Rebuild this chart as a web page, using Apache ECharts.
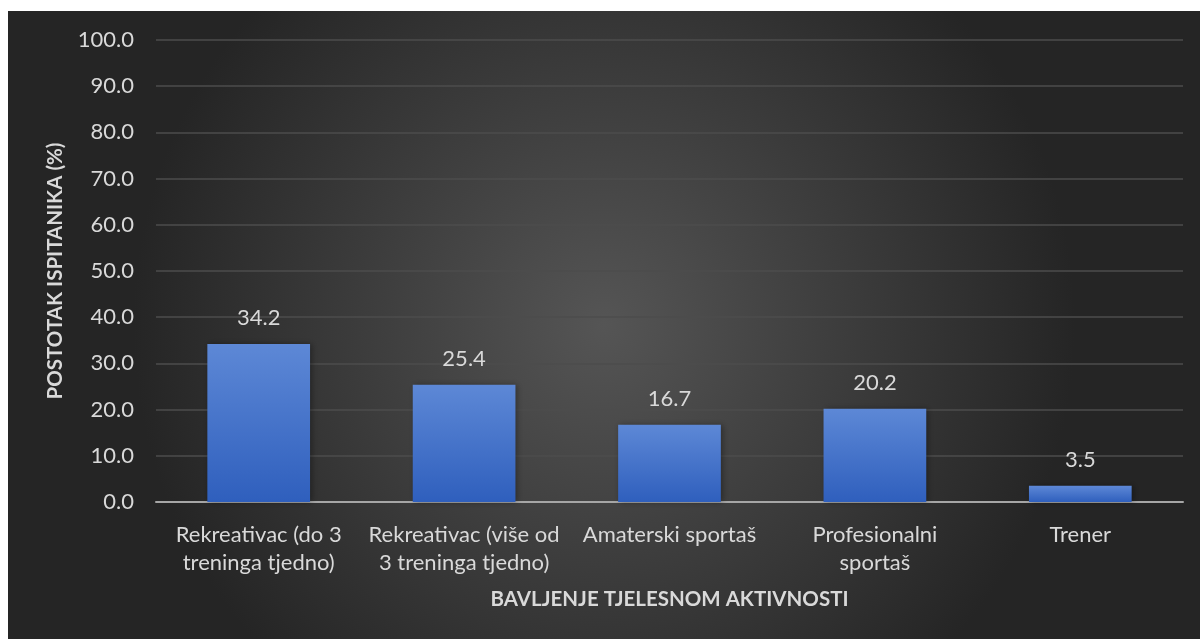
<!DOCTYPE html>
<html><head><meta charset="utf-8">
<script src="https://cdn.jsdelivr.net/npm/echarts@6/dist/echarts.min.js"></script>
<style>
html,body{margin:0;padding:0;background:#fff;width:1200px;height:639px;overflow:hidden;}
#c{position:absolute;left:8px;top:11px;width:1192px;height:628px;}
</style></head>
<body><div id="c"></div>
<script>
const categories = ['Rekreativac (do 3\ntreninga tjedno)', 'Rekreativac (više od\n3 treninga tjedno)', 'Amaterski sportaš', 'Profesionalni\nsportaš', 'Trener'];
const values = [34.2, 25.4, 16.7, 20.2, 3.5];
const yAxisTitle = 'POSTOTAK ISPITANIKA (%)';
const xAxisTitle = 'BAVLJENJE TJELESNOM AKTIVNOSTI';

const FONT = 'Lato, "Open Sans", sans-serif';
const TXT = '#d9d9d9';
const chart = echarts.init(document.getElementById('c'));
chart.setOption({
  backgroundColor: {type:'radial', x:0.5, y:0.5, r:0.75, colorStops:[{offset:0,color:'#555555'},{offset:1,color:'#252525'}]},
  textStyle:{fontFamily:FONT},
  grid:{left:148, right:17, top:29, bottom:137},
  xAxis:{
    type:'category', data:categories,
    axisLine:{lineStyle:{color:'#a6a6a6', width:2}},
    axisTick:{show:false},
    axisLabel:{color:TXT, fontSize:22, lineHeight:28, margin:19, fontFamily:FONT, interval:0},
    name:xAxisTitle, nameLocation:'middle', nameGap:87,
    nameTextStyle:{color:TXT, fontSize:20.5, fontWeight:'bold', fontFamily:FONT}
  },
  yAxis:{
    type:'value', min:0, max:100, interval:10,
    axisLine:{show:false}, axisTick:{show:false},
    splitLine:{lineStyle:{color:'#4d4d4d', width:1.5}},
    axisLabel:{color:TXT, fontSize:22, margin:22, fontFamily:FONT, formatter:v=>v.toFixed(1)},
    name:yAxisTitle, nameLocation:'middle', nameGap:90,
    nameTextStyle:{color:TXT, fontSize:20.5, fontWeight:'bold', fontFamily:FONT}
  },
  series:[{
    type:'bar', data:values, barWidth:'50%',
    itemStyle:{color:{type:'linear',x:0,y:0,x2:0,y2:1,colorStops:[{offset:0,color:'#5d88d6'},{offset:1,color:'#2f5fbd'}]},
      shadowColor:'rgba(0,0,0,0.35)', shadowBlur:6, shadowOffsetX:2, shadowOffsetY:0},
    label:{show:true, position:'top', distance:15, color:TXT, fontSize:22, fontFamily:FONT, formatter:p=>p.value.toFixed(1)}
  }]
});
</script></body></html>
